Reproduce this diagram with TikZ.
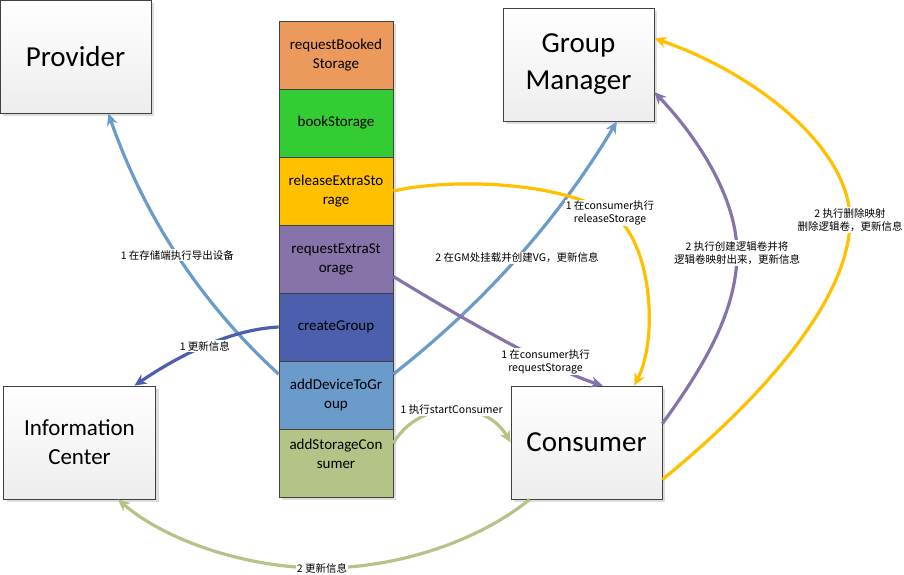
\documentclass[tikz,border=0pt]{standalone}
\usepackage{fontspec}
\setmainfont{Carlito}
\newfontfamily\cjk{Noto Sans CJK SC}
\usepackage{tikz}
\usetikzlibrary{arrows.meta,shadows}
\definecolor{segorange}{HTML}{EB9A5B}
\definecolor{seggreen}{HTML}{33CC33}
\definecolor{seggold}{HTML}{FFC000}
\definecolor{segpurple}{HTML}{8673A9}
\definecolor{segnavy}{HTML}{4B5FAD}
\definecolor{segblue}{HTML}{6A9BCB}
\definecolor{segolive}{HTML}{B4C386}
\tikzset{
  entity/.style={draw=black!75, line width=0.8pt, top color=white, bottom color=black!7, drop shadow={shadow xshift=3pt, shadow yshift=-3pt, fill=black!13, opacity=1}, minimum width=151pt, minimum height=113pt, align=center, font=\fontsize{29}{37}\selectfont},
  stackseg/.style={draw=black!75, line width=0.8pt, minimum width=114pt, minimum height=68pt, align=center, font=\fontsize{15}{19}\selectfont, drop shadow={shadow xshift=3pt, shadow yshift=-3pt, fill=black!13, opacity=1}},
  flow/.style={-{Stealth[length=12pt,width=11pt]}, line width=3.2pt},
  msgtext/.style={fill=white, text=black, inner sep=1pt, align=center, font=\cjk\fontsize{10.5}{13.5}\selectfont}
}

\begin{document}
\begin{tikzpicture}[x=1pt,y=-1pt]
  \useasboundingbox (0,0) rectangle (904,574);
  \node[entity] (provider) at (75.5,56.5) {Provider};
  \node[entity] (gm) at (578.5,64.5) {Group\\Manager};
  \node[entity] (consumer) at (586.5,442.5) {Consumer};
  \node[entity, minimum width=152pt, font=\fontsize{23}{29}\selectfont] (info) at (79.5,442.5) {Information\\Center};

  \node[stackseg, fill=segorange] (reqbooked) at (336,55) {requestBooked\\Storage};
  \node[stackseg, fill=seggreen] (bookst) at (336,123) {bookStorage};
  \node[stackseg, fill=seggold] (relextra) at (336,191) {releaseExtraSto\\rage};
  \node[stackseg, fill=segpurple] (reqextra) at (336,259) {requestExtraSt\\orage};
  \node[stackseg, fill=segnavy] (creategrp) at (336,327) {createGroup};
  \node[stackseg, fill=segblue] (adddev) at (336,395) {addDeviceToGr\\oup};
  \node[stackseg, fill=segolive] (addsc) at (336,463) {addStorageCon\\sumer\\\mbox{}};

  \draw[flow, segblue] (adddev.160) .. controls (200,302) and (144,216) .. (provider.-60) node[msgtext, pos=0.5] {1 在存储端执行导出设备};
  \draw[flow, segblue] (adddev.20) .. controls (484,303) and (558,220) .. (gm.-56) node[msgtext, pos=0.5] {2 在GM处挂载并创建VG，更新信息};
  \draw[flow, segnavy] (creategrp.west) .. controls (238,329) and (190,348) .. (info.46) node[msgtext, pos=0.55] {1 更新信息};
  \draw[flow, segpurple] (reqextra.-17) .. controls (494,338) and (565,374) .. (consumer.74) node[msgtext, pos=0.62] {1 在consumer执行\\requestStorage};
  \draw[flow, segolive] (addsc.19) .. controls (418,400) and (485,398) .. (consumer.west) node[msgtext, pos=0.5] {1 执行startConsumer};
  \draw[flow, segolive] (consumer.-135) .. controls (480,540) and (400,568) .. (322,568) node[msgtext] {2 更新信息} .. controls (245,568) and (165,540) .. (info.-56);
  \draw[flow, seggold] (relextra.east) .. controls (440,180) and (550,178) .. (610,213) node[msgtext] {1 在consumer执行\\releaseStorage} .. controls (650,235) and (660,335) .. (consumer.50);
  \draw[flow, segpurple] (consumer.14) .. controls (705,365) and (737,310) .. (737,253) node[msgtext] {2 执行创建逻辑卷并将\\逻辑卷映射出来，更新信息} .. controls (737,200) and (700,140) .. (gm.-20);
  \draw[flow, seggold] (consumer.-26) .. controls (760,400) and (850,300) .. (850,220) node[msgtext] {2 执行删除映射\\删除逻辑卷，更新信息} .. controls (850,150) and (760,75) .. (gm.19);
\end{tikzpicture}
\end{document}
